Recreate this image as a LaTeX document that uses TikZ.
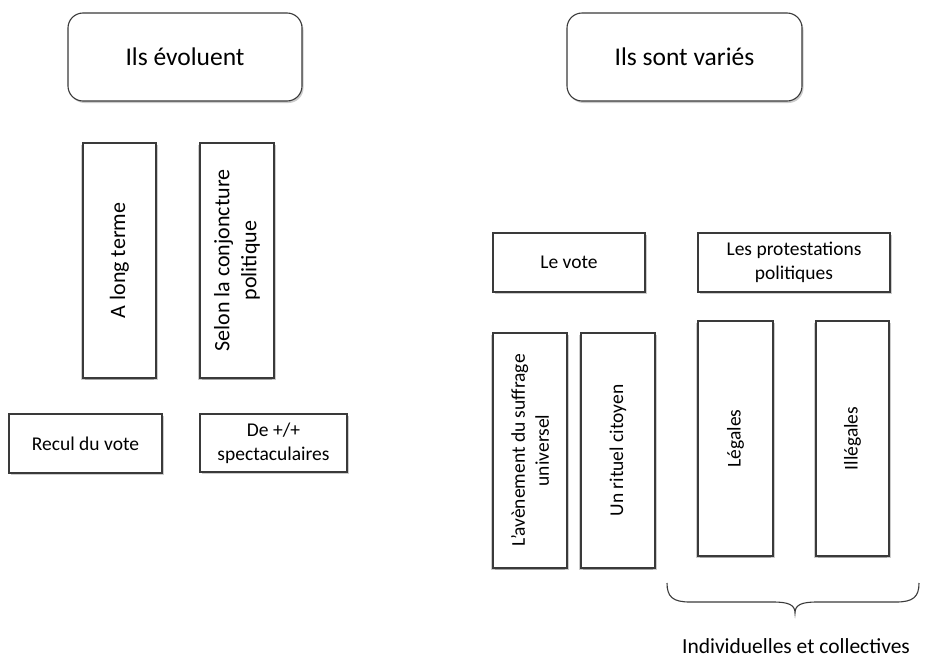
\documentclass[tikz,border=0pt]{standalone}
\usepackage{fontspec}
\setmainfont{Carlito}
\usetikzlibrary{shadows}
\definecolor{edge}{HTML}{3A3A3A}
\tikzset{
  box/.style={draw=edge, line width=1.1pt, fill=white, inner sep=2pt, align=center,
    drop shadow={shadow xshift=1.5pt, shadow yshift=-2pt, opacity=0.2, fill=black}},
  rbox/.style={box, rotate=90,
    drop shadow={shadow xshift=-2pt, shadow yshift=-1.5pt, opacity=0.2, fill=black}},
  titlebox/.style={box, rounded corners=15pt, font=\fontsize{25.5}{30}\selectfont},
  smalltxt/.style={font=\fontsize{19.5}{24}\selectfont},
  bigtxt/.style={font=\fontsize{22}{27}\selectfont},
}
\begin{document}
\begin{tikzpicture}[x=1pt,y=-1pt]
\useasboundingbox (0,0) rectangle (925,659);
% titles
\node[titlebox, minimum width=234, minimum height=88] (t1) at (185,57) {Ils évoluent};
\node[titlebox, minimum width=235, minimum height=88] (t2) at (684.5,57) {Ils sont variés};
% left
\node[rbox, bigtxt, minimum width=235, minimum height=73] (a) at (119.5,260.5) {A long terme};
\node[rbox, bigtxt, minimum width=235, minimum height=74] (b) at (237,260.5) {Selon la conjoncture\\politique};
\node[box, smalltxt, minimum width=153, minimum height=59] (c) at (85.5,443.5) {Recul du vote};
\node[box, smalltxt, minimum width=147, minimum height=58] (d) at (273.5,443) {De +/+\\spectaculaires};
% right
\node[box, smalltxt, minimum width=152, minimum height=59] (e) at (569,262.5) {Le vote};
\node[box, smalltxt, minimum width=192, minimum height=59] (f) at (794,262.5) {Les protestations\\politiques};
\node[rbox, smalltxt, minimum width=235, minimum height=74] (g) at (530,450.5) {L’avènement du suffrage\\universel};
\node[rbox, smalltxt, minimum width=235, minimum height=74] (h) at (618,450.5) {Un rituel citoyen};
\node[rbox, smalltxt, minimum width=235, minimum height=75] (i) at (735.5,438.5) {Légales};
\node[rbox, smalltxt, minimum width=235, minimum height=73] (j) at (852.5,438.5) {Illégales};
% brace
\draw[edge, line width=1.1pt]
  (667,583) .. controls (667,597) and (673,602) .. (690,602) -- (773,602)
  .. controls (789,602) and (795,605) .. (795,613)
  .. controls (795,605) and (801,602) .. (817,602) -- (896,602)
  .. controls (913,602) and (919,597) .. (919,583);
\node[font=\fontsize{21.5}{26}\selectfont] (k) at (796,646) {Individuelles et collectives};
\end{tikzpicture}
\end{document}
